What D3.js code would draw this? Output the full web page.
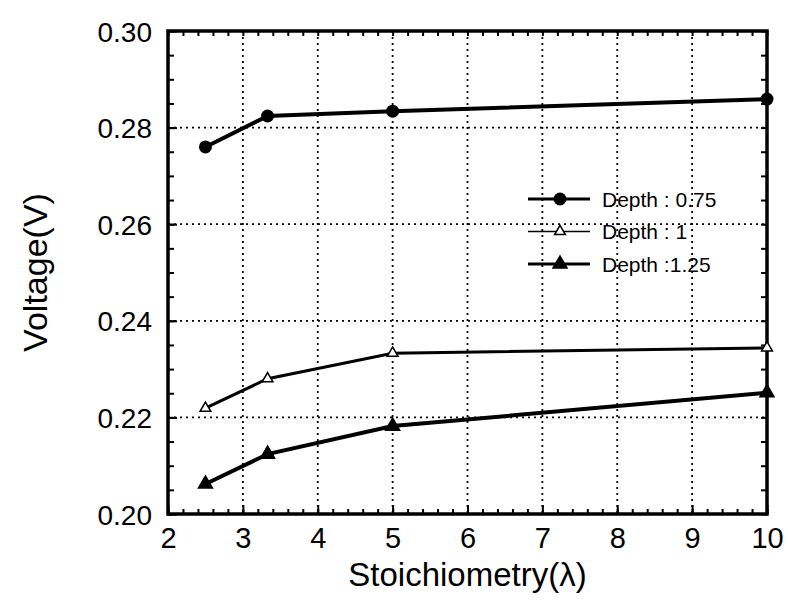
<!DOCTYPE html>
<html>
  <head>
    <script src="https://d3js.org/d3.v7.min.js"></script>
    <style>
      body { margin: 0; background: #fff; }
      svg { font-family: Arial, "Liberation Sans", sans-serif; }
      .grid line { stroke: #000; stroke-width: 1.8; stroke-dasharray: 2,4; }
    </style>
  </head>
  <body>
    <svg width="788" height="605"></svg>
    <script>
      const stoich = [2.5, 3.33, 5, 10];
      const depth075 = [0.2760, 0.2824, 0.2834, 0.2859];
      const depth100 = [0.2219, 0.2280, 0.2333, 0.2344];
      const depth125 = [0.2062, 0.2124, 0.2182, 0.2251];
      const seriesNames = ["Depth : 0.75", "Depth : 1", "Depth :1.25"];
      const xTicks = [2, 3, 4, 5, 6, 7, 8, 9, 10];
      const yTicks = [0.20, 0.22, 0.24, 0.26, 0.28, 0.30];

      const svg = d3.select("svg");
      const margin = { top: 31, right: 21, bottom: 91, left: 168 };
      const width = 788 - margin.left - margin.right,
            height = 605 - margin.top - margin.bottom;

      const g = svg.append("g").attr("transform", `translate(${margin.left},${margin.top})`);

      const x = d3.scaleLinear().domain([2, 10]).range([0, width]);
      const y = d3.scaleLinear().domain([0.20, 0.30]).range([height, 0]);

      // dotted grid at the inner major ticks
      const grid = g.append("g").attr("class", "grid");
      grid.selectAll(".gx").data(xTicks.slice(1, -1)).join("line")
        .attr("x1", d => x(d)).attr("x2", d => x(d))
        .attr("y1", 0).attr("y2", height);
      grid.selectAll(".gy").data(yTicks.slice(1, -1)).join("line")
        .attr("y1", d => y(d)).attr("y2", d => y(d))
        .attr("x1", 0).attr("x2", width);

      // inward ticks on all four sides
      const xMinor = d3.range(2, 10.001, 0.2).map(d => +d.toFixed(1));
      const yMinor = d3.range(0.20, 0.3001, 0.005).map(d => +d.toFixed(3));

      function tickStyle(sel) {
        sel.select(".domain").remove();
        sel.selectAll("line").attr("stroke", "#000").attr("stroke-width", 2);
      }

      g.append("g").attr("transform", `translate(0,${height})`)
        .call(d3.axisBottom(x).tickValues(xMinor).tickSize(-5).tickFormat(""))
        .call(tickStyle);
      g.append("g").call(d3.axisTop(x).tickValues(xMinor).tickSize(-5).tickFormat("")).call(tickStyle);
      g.append("g").call(d3.axisLeft(y).tickValues(yMinor).tickSize(-6).tickFormat("")).call(tickStyle);
      g.append("g").attr("transform", `translate(${width},0)`)
        .call(d3.axisRight(y).tickValues(yMinor).tickSize(-6).tickFormat("")).call(tickStyle);

      const xAxis = g.append("g").attr("transform", `translate(0,${height})`)
        .call(d3.axisBottom(x).tickValues(xTicks).tickSize(-9).tickPadding(13).tickFormat(d3.format("d")))
        .call(tickStyle);
      xAxis.selectAll("text").attr("fill", "#000").style("font-size", "29px").attr("dy", "0.71em");

      const yAxis = g.append("g")
        .call(d3.axisLeft(y).tickValues(yTicks).tickSize(-9).tickPadding(16).tickFormat(d3.format(".2f")))
        .call(tickStyle);
      yAxis.selectAll("text").attr("fill", "#000").style("font-size", "28px").attr("dy", "0.36em");

      // frame
      g.append("rect").attr("width", width).attr("height", height)
        .attr("fill", "none").attr("stroke", "#000").attr("stroke-width", 3.5);

      const line = d3.line().x(d => x(d[0])).y(d => y(d[1]));

      const triUp = d3.symbol().type(d3.symbolTriangle);

      const series = [
        { name: seriesNames[0], vals: depth075, sw: 4, marker: "circle" },
        { name: seriesNames[1], vals: depth100, sw: 3, marker: "open" },
        { name: seriesNames[2], vals: depth125, sw: 4, marker: "tri" }
      ];

      function drawMarker(sel, type, cx, cy) {
        if (type === "circle") {
          sel.append("circle").attr("cx", cx).attr("cy", cy).attr("r", 6.5).attr("fill", "#000");
        } else if (type === "open") {
          sel.append("path").attr("d", triUp.size(50)()).attr("transform", `translate(${cx},${cy})`)
            .attr("fill", "#fff").attr("stroke", "#000").attr("stroke-width", 1.5);
        } else {
          sel.append("path").attr("d", triUp.size(120)()).attr("transform", `translate(${cx},${cy})`)
            .attr("fill", "#000");
        }
      }

      series.forEach(s => {
        const pts = stoich.map((v, i) => [v, s.vals[i]]);
        g.append("path").datum(pts).attr("d", line)
          .attr("fill", "none").attr("stroke", "#000").attr("stroke-width", s.sw);
        pts.forEach(p => drawMarker(g, s.marker, x(p[0]), y(p[1])));
      });

      // legend
      const legend = svg.append("g").attr("transform", "translate(528,199)");
      series.forEach((s, i) => {
        const row = legend.append("g").attr("transform", `translate(0,${i * 32.5})`);
        row.append("line").attr("x1", 0).attr("x2", 62).attr("y1", 0).attr("y2", 0)
          .attr("stroke", "#000").attr("stroke-width", i === 1 ? 1.5 : 3);
        drawMarker(row, s.marker, 32, 0);
        row.append("text").attr("x", 74).attr("y", 0).attr("dy", "0.36em")
          .style("font-size", "21px").text(s.name);
      });

      svg.append("text")
        .attr("x", margin.left + width / 2)
        .attr("y", 586)
        .attr("text-anchor", "middle")
        .style("font-size", "33px")
        .text("Stoichiometry(λ)");

      svg.append("text")
        .attr("transform", `translate(47,${margin.top + height / 2}) rotate(-90)`)
        .attr("text-anchor", "middle")
        .style("font-size", "34px")
        .text("Voltage(V)");
    </script>
  </body>
</html>
